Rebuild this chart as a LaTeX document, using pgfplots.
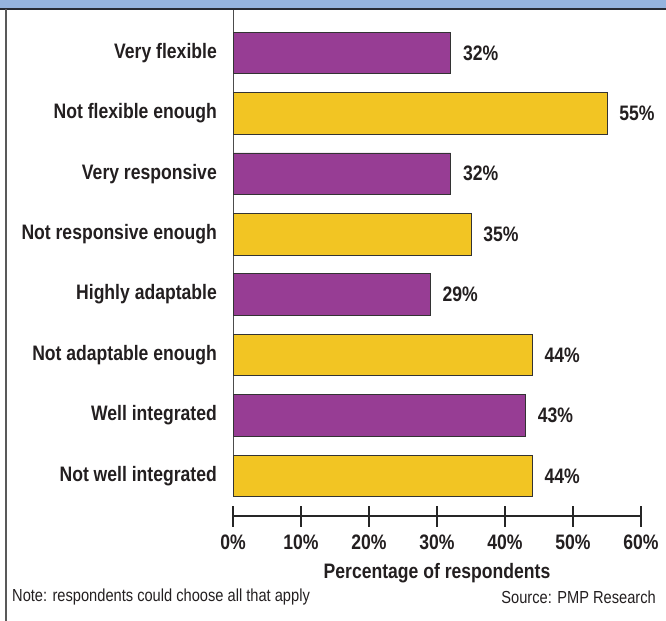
\documentclass[border=0pt]{standalone}
\usepackage{pgfplots}
\pgfplotsset{compat=1.18}
\usepackage{fontspec}
\setmainfont{Liberation Sans}[FakeStretch=0.84]
\definecolor{barpurple}{RGB}{151,61,148}
\definecolor{baryellow}{RGB}{242,197,35}
\definecolor{bandblue}{RGB}{149,180,222}
\definecolor{framedark}{RGB}{40,44,52}
\definecolor{txt}{RGB}{35,31,32}
\newcommand{\bigb}{\fontsize{21}{25}\selectfont\bfseries}
\begin{document}
\begin{tikzpicture}[x=1bp,y=1bp]
\useasboundingbox (0,0) rectangle (666,-621);
\fill[bandblue] (0,0) rectangle (666,-8.5);
\draw[framedark,line width=1.5bp] (0,-9) -- (666,-9);
\draw[gray!70!black,line width=1.2bp] (6,-9) -- (6,-621);
\begin{axis}[
  at={(233bp,-10bp)}, anchor=north west,
  scale only axis, width=408bp, height=487bp,
  xmin=0, xmax=60, ymin=-0.71, ymax=7.35,
  y dir=reverse,
  xbar, bar width=0.69, bar shift=0pt,
  axis x line=none, axis y line*=left,
  axis line style={-, gray!60!black, line width=1bp},
  ytick={0,...,7},
  yticklabels={Very flexible,Not flexible enough,Very responsive,Not responsive enough,Highly adaptable,Not adaptable enough,Well integrated,Not well integrated},
  major tick length=0pt,
  /pgf/number format/assume math mode=true,
  yticklabel style={font=\bigb, text=txt, inner sep=0pt, xshift=-16bp},
  nodes near coords={\pgfmathprintnumber{\pgfplotspointmeta}\%},
  every node near coord/.append style={font=\bigb, text=txt, anchor=west, inner sep=0pt, xshift=12bp},
  clip=false,
]
\addplot[fill=barpurple, draw=black!80, line width=0.8bp] coordinates {(32,0) (32,2) (29,4) (43,6)};
\addplot[fill=baryellow, draw=black!80, line width=0.8bp] coordinates {(55,1) (35,3) (44,5) (44,7)};
\end{axis}
\begin{axis}[
  at={(233bp,-516bp)}, anchor=south west,
  scale only axis, width=408bp, height=10bp,
  xmin=0, xmax=60, ymin=0, ymax=1,
  axis x line=bottom, axis y line=none,
  axis line style={-, black!85, line width=1.2bp},
  xtick={0,10,...,60}, tick align=center, major tick length=21bp,
  tick style={black!85, line width=1.2bp},
  /pgf/number format/assume math mode=true,
  xticklabel={\pgfmathprintnumber{\tick}\%},
  xticklabel style={font=\bigb, text=txt, inner sep=0pt, yshift=-8bp},
]
\addplot[draw=none] coordinates {(0,0) (60,0)};
\end{axis}
\node[font=\bigb, text=txt, inner sep=0pt] at (437,-573) {Percentage of respondents};
\node[font=\fontsize{17.5}{20}\selectfont, text=txt, anchor=west, inner sep=0pt] at (12,-597) {Note: respondents could choose all that apply};
\node[font=\fontsize{17.5}{20}\selectfont, text=txt, anchor=east, inner sep=0pt] at (656,-597) {Source: PMP Research};
\end{tikzpicture}
\end{document}
